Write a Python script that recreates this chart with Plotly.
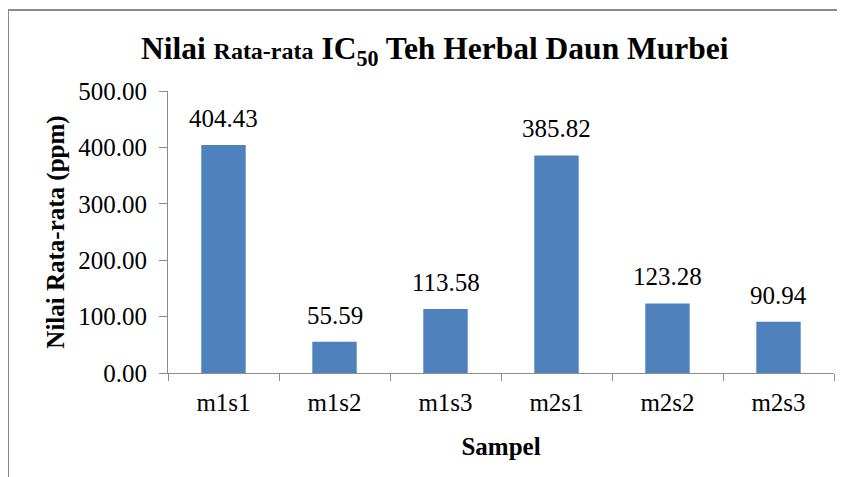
import plotly.graph_objects as go

categories = ["m1s1", "m1s2", "m1s3", "m2s1", "m2s2", "m2s3"]
values = [404.43, 55.59, 113.58, 385.82, 123.28, 90.94]
y_ticks = [0, 100, 200, 300, 400, 500]

FONT = "Liberation Serif, Times New Roman, serif"
AXIS_COLOR = "#8c8c8c"

fig = go.Figure(go.Bar(
    x=categories, y=values,
    marker=dict(color="#4F81BD", line=dict(width=0)),
    width=0.4,
))

for c, v in zip(categories, values):
    fig.add_annotation(x=c, y=v, text=f"{v:.2f}", showarrow=False,
                       xref="x", yref="y", yanchor="bottom", yshift=11,
                       font=dict(family=FONT, size=25, color="black"))

# page body has an 8px margin, so the figure is laid out 8px up/left
fig.update_layout(
    width=845, height=477,
    margin=dict(l=160, r=19, t=83, b=112),
    paper_bgcolor="white", plot_bgcolor="white",
    font=dict(family=FONT, color="black"),
    showlegend=False,
    title=dict(
        text="<b>Nilai <span style='font-size:24px'>Rata-rata</span> IC<sub>50</sub> Teh Herbal Daun Murbei</b>",
        font=dict(family=FONT, size=31.5, color="black"),
        xref="container", x=0.505, xanchor="center",
        yref="container", y=0.916, yanchor="middle",
    ),
)

fig.update_xaxes(
    automargin=False,
    showline=True, linecolor=AXIS_COLOR, linewidth=1,
    ticks="outside", tickson="boundaries", ticklen=7, tickcolor=AXIS_COLOR,
    tickfont=dict(family=FONT, size=25, color="black"),
    ticklabelstandoff=7,
    showgrid=False,
    title=dict(text="<b>Sampel</b>", font=dict(family=FONT, size=25, color="black"), standoff=22),
)
fig.update_yaxes(
    automargin=False,
    range=[0, 500], tickvals=y_ticks, tickformat=".2f",
    showline=True, linecolor=AXIS_COLOR, linewidth=1,
    ticks="outside", ticklen=8, tickcolor=AXIS_COLOR,
    tickfont=dict(family=FONT, size=25, color="black"),
    ticklabelstandoff=7,
    showgrid=False, zeroline=False,
    title=dict(text="<b>Nilai Rata-rata (ppm)</b>", font=dict(family=FONT, size=25, color="black"), standoff=6),
)

# outer chart frame
fig.add_shape(type="rect", xref="paper", yref="paper",
              x0=(8 - 168) / 666, x1=(860 - 168) / 666,
              y0=(373 - 490) / 282, y1=(373 - 10) / 282,
              line=dict(color="#8a8a8a", width=2), fillcolor="rgba(0,0,0,0)", layer="below")

fig.write_html("out.html")
